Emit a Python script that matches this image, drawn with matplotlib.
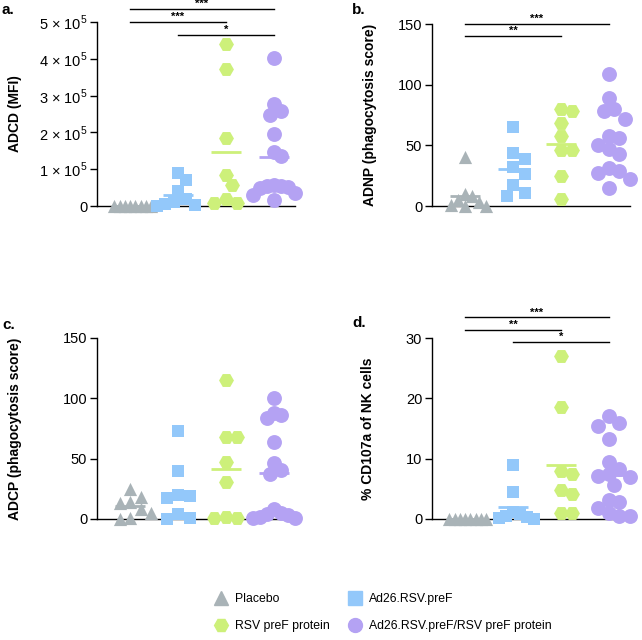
import matplotlib
matplotlib.use('Agg')
import matplotlib.pyplot as plt
import numpy as np
from matplotlib.lines import Line2D

plt.rcParams['font.family'] = ['Liberation Sans', 'DejaVu Sans']
plt.rcParams['mathtext.fontset'] = 'custom'
plt.rcParams['mathtext.rm'] = 'Liberation Sans'

groups = ['Placebo', 'Ad26.RSV.preF', 'RSV preF protein', 'Ad26.RSV.preF/RSV preF protein']
colors = ['#a9b3b7', '#93c8fa', '#cdf07a', '#b4a2f3']
markers = ['^', 's', 'H', 'o']
msizes = [90, 85, 115, 115]

# Panel a: ADCD (MFI)
adcd_placebo = [0, 0, 0, 0, 0, 0, 0, 0]
adcd_ad26 = [90000, 70000, 40000, 20000, 10000, 5000, 2000, 1000]
adcd_protein = [441000, 373000, 184000, 85000, 56000, 20000, 8000, 8000]
adcd_combo = [402000, 277000, 258000, 248000, 195000, 148000, 135000, 58000,
              55000, 55000, 52000, 50000, 35000, 30000, 15000]

# Panel b: ADNP (phagocytosis score)
adnp_placebo = [40, 10, 8, 5, 3, 1, 0, 0]
adnp_ad26 = [65, 44, 39, 32, 26, 17, 11, 8]
adnp_protein = [80, 78, 68, 58, 46, 46, 25, 6]
adnp_combo = [109, 89, 80, 78, 72, 58, 56, 50, 47, 43, 31, 29, 27, 22, 15]

# Panel c: ADCP (phagocytosis score)
adcp_placebo = [25, 18, 14, 13, 8, 5, 1, 0]
adcp_ad26 = [73, 40, 20, 19, 17, 4, 1, 0]
adcp_protein = [115, 68, 68, 47, 31, 2, 1, 1]
adcp_combo = [100, 88, 86, 84, 64, 46, 41, 37, 8, 5, 4, 3, 2, 1, 1]

# Panel d: % CD107a of NK cells
cd107_placebo = [0, 0, 0, 0, 0, 0, 0, 0]
cd107_ad26 = [9, 4.5, 1.2, 0.8, 0.5, 0.3, 0.1, 0]
cd107_protein = [27, 18.5, 8, 7.5, 4.8, 4.2, 1, 1]
cd107_combo = [17, 15.9, 15.4, 13.3, 9.4, 8.3, 7.4, 7.2, 7.0, 5.6, 3.2, 2.8, 1.8, 1.0, 0.5, 0.5]

panels = [
    dict(letter='a.', data=[adcd_placebo, adcd_ad26, adcd_protein, adcd_combo],
         ylabel='ADCD (MFI)', ylim=(0, 5e5), ticks=[0, 1e5, 2e5, 3e5, 4e5, 5e5],
         ticklabels=['0'] + [f'{i} × 10$^{{5}}$' for i in range(1, 6)],
         sig=[(0, 3, 5.36e5, '***'), (0, 2, 5.0e5, '***'), (1, 3, 4.66e5, '*')],
         rect=[97, 22, 295, 206], labx=-0.379, letterpos=(2, 10)),
    dict(letter='b.', data=[adnp_placebo, adnp_ad26, adnp_protein, adnp_combo],
         ylabel='ADNP (phagocytosis score)', ylim=(0, 150), ticks=[0, 50, 100, 150],
         ticklabels=['0', '50', '100', '150'],
         sig=[(0, 3, 150, '***'), (0, 2, 140, '**')],
         rect=[432, 24, 630, 206], labx=-0.278, letterpos=(352, 10)),
    dict(letter='c.', data=[adcp_placebo, adcp_ad26, adcp_protein, adcp_combo],
         ylabel='ADCP (phagocytosis score)', ylim=(0, 150), ticks=[0, 50, 100, 150],
         ticklabels=['0', '50', '100', '150'],
         sig=[],
         rect=[97, 338, 295, 519], labx=-0.379, letterpos=(2, 325)),
    dict(letter='d.', data=[cd107_placebo, cd107_ad26, cd107_protein, cd107_combo],
         ylabel='% CD107a of NK cells', ylim=(0, 30), ticks=[0, 10, 20, 30],
         ticklabels=['0', '10', '20', '30'],
         sig=[(0, 3, 33.4, '***'), (0, 2, 31.3, '**'), (1, 3, 29.3, '*')],
         rect=[432, 338, 630, 519], labx=-0.29, letterpos=(352, 323)),
]

W, H = 642, 640
fig = plt.figure(figsize=(W / 100, H / 100), dpi=100)


def swarm_offsets(ax, values, pos, d=11.5, maxw=21.0):
    tr = ax.transData
    ys = np.asarray(values, float)
    pts = tr.transform(np.column_stack([np.full(len(ys), pos), ys]))
    py = pts[:, 1]
    px_per_x = tr.transform([[1, 0]])[0, 0] - tr.transform([[0, 0]])[0, 0]
    order = np.argsort(-ys, kind='stable')
    placed = []
    offs = np.zeros(len(ys))
    step = d * 0.5
    cands = [0]
    for j in range(1, 60):
        cands += [j, -j]
    for i in order:
        xo = 0
        for c in cands:
            xo = c * step
            if all((xo - xp) ** 2 + (py[i] - yp) ** 2 >= d ** 2 for xp, yp in placed):
                break
        placed.append((xo, py[i]))
        offs[i] = xo
    m = np.max(np.abs(offs)) if len(offs) else 0
    if m > maxw:
        offs = offs * maxw / m
    return pos + offs / px_per_x


for p in panels:
    x0, y0, x1, y1 = p['rect']
    ax = fig.add_axes([x0 / W, 1 - y1 / H, (x1 - x0) / W, (y1 - y0) / H])
    ax.set_xlim(-0.69, 3.44)
    ax.set_ylim(*p['ylim'])
    for s in ['top', 'right']:
        ax.spines[s].set_visible(False)
    for s in ['left', 'bottom']:
        ax.spines[s].set_linewidth(1.0)
        ax.spines[s].set_color('black')
    ax.set_xticks([])
    ax.set_yticks(p['ticks'])
    ax.set_yticklabels(p['ticklabels'])
    ax.tick_params(axis='y', direction='out', length=5, width=1, labelsize=10.5, pad=2)
    ax.set_ylabel(p['ylabel'], fontsize=10, fontweight='bold')
    ax.yaxis.set_label_coords(p['labx'], 0.5)

    for gi, vals in enumerate(p['data']):
        xs = swarm_offsets(ax, vals, gi)
        ax.scatter(xs, vals, marker=markers[gi], s=msizes[gi], color=colors[gi],
                   linewidths=0, clip_on=False, zorder=3)
        mval = np.mean(vals)
        ax.plot([gi - 0.32, gi + 0.32], [mval, mval], color=colors[gi], lw=2,
                solid_capstyle='butt', clip_on=False, zorder=4)

    for (a, b, yv, st) in p['sig']:
        ax.plot([a, b], [yv, yv], color='black', lw=1, clip_on=False, zorder=5)
        ax.text((a + b) / 2, yv, st, ha='center', va='bottom', fontsize=8,
                fontweight='bold')

    lx, ly = p['letterpos']
    fig.text(lx / W, 1 - ly / H, p['letter'], fontsize=11, fontweight='bold',
             ha='left', va='center')

handles = [Line2D([], [], marker=markers[i], color=colors[i], linestyle='none',
                  markersize=10) for i in range(4)]
common = dict(loc='upper left', frameon=False, fontsize=8.8, handlelength=1.1,
              handletextpad=0.6, labelspacing=1.25, borderaxespad=0, borderpad=0)
leg1 = fig.legend([handles[0], handles[2]], [groups[0], groups[2]],
                  bbox_to_anchor=(214 / W, 1 - 593 / H), **common)
leg2 = fig.legend([handles[1], handles[3]], [groups[1], groups[3]],
                  bbox_to_anchor=(348 / W, 1 - 593 / H), **common)

fig.savefig('out.png', dpi=100)
